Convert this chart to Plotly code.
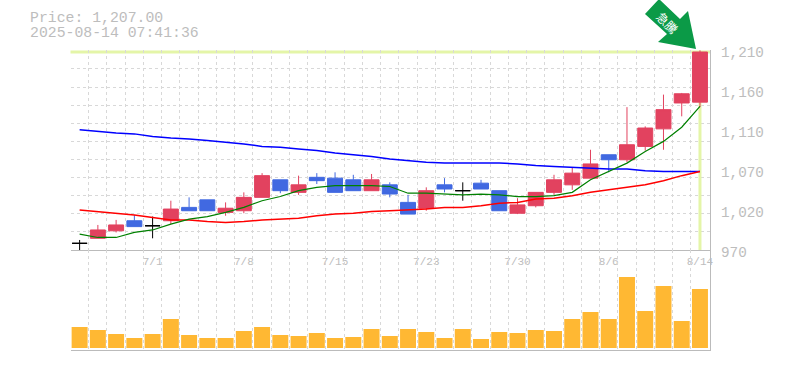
import plotly.graph_objects as go

dates = ["6/23","6/24","6/25","6/26","6/27","6/30","7/1","7/2","7/3","7/4","7/7","7/8","7/9","7/10","7/11","7/14","7/15","7/16","7/17","7/18","7/22","7/23","7/24","7/25","7/28","7/29","7/30","7/31","8/1","8/4","8/5","8/6","8/7","8/8","8/14"]
idx = list(range(35))
opens  = [978,984,993,1005,999,1005,1021,1030,1015,1017,1033,1054,1039,1057,1056,1054,1041,1048,1027,1020,1048,1041,1050,1041,1014,1023,1039,1048,1056,1084,1078,1094,1115,1146,1147]
highs  = [982,1000,1006,1012,1010,1029,1033,1030,1027,1039,1062,1054,1059,1062,1063,1060,1061,1051,1036,1045,1056,1051,1054,1041,1032,1039,1060,1069,1090,1084,1141,1118,1156,1158,1209]
lows   = [969,984,991,998,984,1001,1017,1017,1011,1014,1033,1038,1036,1049,1039,1041,1041,1033,1013,1017,1039,1029,1043,1017,1013,1021,1036,1042,1056,1063,1075,1089,1090,1130,1141]
closes = [978,994,1000,998,999,1019,1017,1017,1020,1033,1059,1041,1048,1053,1039,1041,1054,1037,1013,1041,1043,1041,1043,1017,1024,1039,1054,1062,1073,1078,1096,1116,1138,1157,1207]
ma_short = [989,985,985,991,994,1001,1007,1010,1015,1021,1029,1034,1041,1045,1047,1047,1047,1046,1038,1038,1037,1036,1037,1036,1034,1034,1035,1039,1054,1064,1074,1088,1100,1117,1142]
ma_mid   = [1018,1016,1014,1012,1009,1006,1006,1004,1003,1004,1006,1007,1008,1011,1013,1014,1016,1017,1018,1019,1021,1021,1023,1026,1027,1031,1032,1035,1039,1042,1045,1048,1053,1059,1064]
ma_long  = [1114,1112,1110,1109,1106,1104,1103,1101,1099,1097,1094,1093,1091,1089,1086,1084,1082,1079,1077,1075,1074,1074,1074,1074,1073,1071,1070,1069,1068,1067,1067,1065,1064,1064,1064]
volumes  = [2100,1800,1400,1000,1400,2900,1300,1000,1000,1700,2100,1300,1200,1500,1000,1100,1900,1200,1900,1600,1000,1900,900,1600,1500,1800,1700,2900,3600,2900,7100,3700,6200,2700,5900]
price_ticks = [970,1018,1066,1114,1161,1209]
price_labels = ["970","1,020","1,070","1,110","1,160","1,210"]
date_ticks = [4,9,14,19,24,29,34]
date_labels = ["7/1","7/8","7/15","7/23","7/30","8/6","8/14"]
header_lines = ["Price: 1,207.00", "2025-08-14 07:41:36"]
current_price = 1207
badge_text = "急騰"

W, H = 785, 370
RED, BLUE, BLACK = "#e2425f", "#4169e1", "#000000"
GRID, AXIS, TEXT, LIME = "#d8d8d8", "#bbbbbb", "#bdbdbd", "#e4f5a8"
MONO = "Liberation Mono"
px = lambda v: v / W
py = lambda v: 1 - v / H

fig = go.Figure()
for vals, col, wd in ((ma_long, "#0000ff", 1.5), (ma_mid, "#ff0000", 1.5), (ma_short, "#008000", 1.2)):
    fig.add_trace(go.Scatter(x=idx, y=vals, mode="lines", line=dict(color=col, width=wd), hoverinfo="skip", showlegend=False))

def candles(sel, color):
    s = dict(line=dict(color=color, width=1), fillcolor=color)
    fig.add_trace(go.Candlestick(
        x=sel, open=[opens[i] for i in sel], high=[highs[i] for i in sel],
        low=[lows[i] for i in sel], close=[closes[i] for i in sel],
        increasing=s, decreasing=s, whiskerwidth=0, showlegend=False))

candles([i for i in idx if closes[i] > opens[i]], RED)
candles([i for i in idx if closes[i] < opens[i]], BLUE)
candles([i for i in idx if closes[i] == opens[i]], BLACK)

fig.add_trace(go.Bar(x=idx, y=volumes, xaxis="x2", yaxis="y2", width=0.876, marker=dict(color="#ffb833", line=dict(width=0)), showlegend=False))

xrange_ = [-0.5, 34.55]
xminor = dict(tick0=-0.5, dtick=1, showgrid=True, gridcolor=GRID, griddash="3px,3px", gridwidth=1, ticks="")
fig.update_layout(
    width=W, height=H, margin=dict(l=0, r=0, t=0, b=0, autoexpand=False), boxgap=0.18, boxgroupgap=0,
    paper_bgcolor="white", plot_bgcolor="rgba(0,0,0,0)", showlegend=False,
    xaxis=dict(domain=[px(70.5), px(710)], range=xrange_, anchor="y", rangeslider=dict(visible=False),
               tickmode="array", tickvals=date_ticks, ticktext=date_labels, showgrid=False,
               tickfont=dict(family=MONO, size=11, color=TEXT), ticks="outside", ticklen=1, tickcolor="rgba(0,0,0,0)",
               showline=True, linecolor=AXIS, linewidth=1, minor=xminor, zeroline=False),
    yaxis=dict(domain=[py(250), py(50)], range=[970, 1209.4], anchor="x", side="right",
               tick0=970, dtick=21.67, tickmode="linear", showticklabels=False, gridcolor=GRID, griddash="3px,3px", gridwidth=1,
               showline=True, linecolor=AXIS, linewidth=1, zeroline=False),
    xaxis2=dict(domain=[px(70.5), px(710)], range=xrange_, anchor="y2", showticklabels=False, showgrid=False,
                showline=True, linecolor=AXIS, linewidth=1, minor=xminor, zeroline=False, ticks=""),
    yaxis2=dict(domain=[py(350), py(250)], range=[-200, 9800], anchor="x2", side="right", showgrid=False,
                showticklabels=False, showline=True, linecolor=AXIS, linewidth=1, zeroline=False, ticks=""),
    shapes=[
        dict(type="rect", xref="paper", yref="paper", x0=px(60), x1=px(720), y0=py(51), y1=py(45), fillcolor="white", line_width=0, layer="between"),
        dict(type="line", xref="paper", yref="y", x0=px(70.5), x1=px(710), y0=current_price, y1=current_price, line=dict(color=LIME, width=3), layer="between"),
        dict(type="line", xref="x", yref="y", x0=idx[-1], x1=idx[-1], y0=970, y1=current_price, line=dict(color=LIME, width=3), layer="between"),
        dict(type="path", xref="paper", yref="paper", fillcolor="#0b9a47", line_width=0, layer="above",
             path=f"M {px(659)} {py(-1)} L {px(645)} {py(14)} L {px(667)} {py(34)} L {px(658)} {py(42)} L {px(696)} {py(49)} L {px(688)} {py(11)} L {px(680)} {py(19)} Z"),
    ],
    annotations=[
        dict(xref="paper", yref="paper", x=px(28), y=py(ypos), xanchor="left", yanchor="middle", showarrow=False, align="left",
             text=line, font=dict(family=MONO, size=14.8, color=TEXT))
        for ypos, line in zip((18, 33), header_lines)
    ] + [
        dict(xref="paper", yref="paper", x=px(668), y=py(22), xanchor="center", yanchor="middle", showarrow=False, textangle=45,
             text=badge_text, font=dict(family="Noto Sans CJK JP", size=12, color="white")),
    ] + [
        dict(xref="paper", yref="y", x=px(719), y=v, yshift=-3, xanchor="left", yanchor="middle", showarrow=False,
             text=t, font=dict(family=MONO, size=14.3, color=TEXT))
        for v, t in zip(price_ticks, price_labels)
    ],
)
fig.write_html("out.html", config=dict(displayModeBar=False), post_script="document.body.style.margin='0';")
